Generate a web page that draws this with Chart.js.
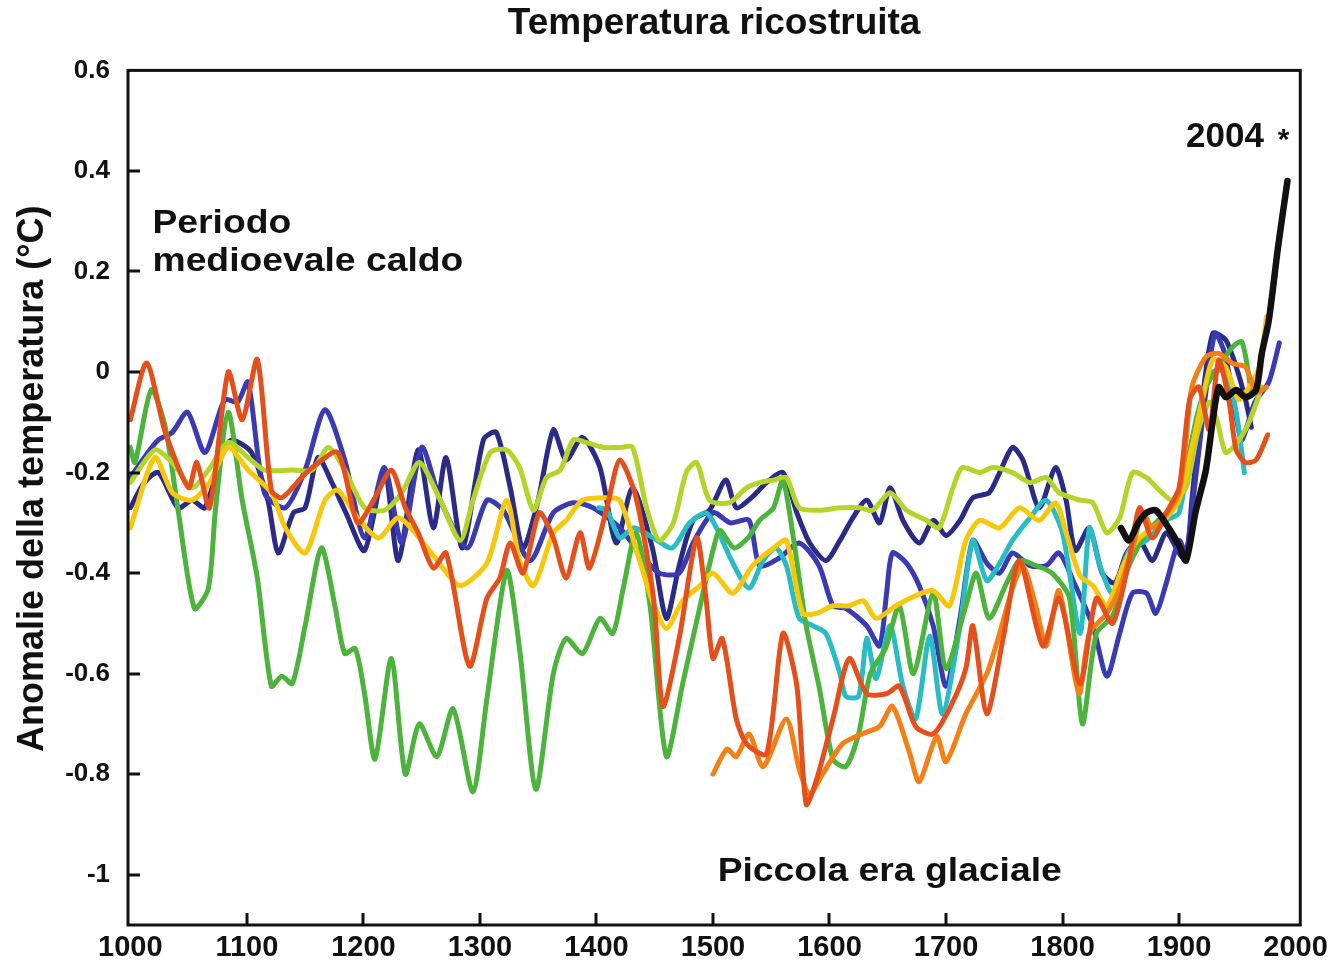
<!DOCTYPE html>
<html lang="it">
<head>
<meta charset="utf-8">
<title>Temperatura ricostruita</title>
<script src="https://cdn.jsdelivr.net/npm/chart.js@4/dist/chart.umd.min.js"></script>
<style>
  html, body { margin: 0; padding: 0; background: #ffffff; }
  canvas { display: block; }
</style>
</head>
<body>
<canvas id="chart" width="1334" height="965"></canvas>
<script>
// ---- Reconstructions: [year, anomaly °C] ----
const navyA = [[1000,-0.27],[1012,-0.22],[1024,-0.20],[1041,-0.27],[1053,-0.255],[1064,-0.27],[1079,-0.16],[1087,-0.135],[1104,-0.16],[1118,-0.255],[1127,-0.36],[1140,-0.28],[1150,-0.27],[1161,-0.17],[1173,-0.22],[1185,-0.28],[1201,-0.355],[1218,-0.195],[1230,-0.375],[1247,-0.155],[1260,-0.31],[1271,-0.17],[1285,-0.35],[1303,-0.135],[1314,-0.12],[1326,-0.23],[1337,-0.35],[1350,-0.255],[1363,-0.115],[1374,-0.175],[1388,-0.13],[1403,-0.19],[1417,-0.34],[1431,-0.23],[1448,-0.35],[1460,-0.49],[1471,-0.385],[1483,-0.295],[1497,-0.275],[1511,-0.215],[1520,-0.27],[1533,-0.25],[1546,-0.22],[1560,-0.20],[1572,-0.28],[1583,-0.34],[1597,-0.375],[1609,-0.335],[1620,-0.29],[1632,-0.255],[1643,-0.30],[1652,-0.23],[1663,-0.295],[1677,-0.34],[1689,-0.295],[1700,-0.325],[1712,-0.295],[1723,-0.25],[1737,-0.24],[1746,-0.20],[1757,-0.15],[1766,-0.175],[1780,-0.27],[1794,-0.19],[1803,-0.255],[1811,-0.355],[1823,-0.31],[1834,-0.40],[1845,-0.42],[1855,-0.36],[1866,-0.335],[1877,-0.375],[1889,-0.32],[1900,-0.36],[1906,-0.375],[1911,-0.255],[1920,-0.055],[1929,0.077],[1940,0.064],[1949,0.01],[1957,-0.055],[1962,-0.11]];

const navyB = [[1000,-0.21],[1012,-0.17],[1024,-0.135],[1036,-0.12],[1049,-0.08],[1064,-0.16],[1081,-0.055],[1092,-0.06],[1101,-0.02],[1115,-0.24],[1133,-0.27],[1150,-0.195],[1167,-0.075],[1184,-0.175],[1201,-0.33],[1218,-0.19],[1233,-0.34],[1250,-0.15],[1266,-0.255],[1289,-0.35],[1306,-0.255],[1320,-0.275],[1343,-0.375],[1363,-0.28],[1380,-0.26],[1397,-0.27],[1420,-0.31],[1437,-0.36],[1454,-0.40],[1471,-0.40],[1483,-0.34],[1500,-0.28],[1515,-0.30],[1531,-0.295],[1540,-0.385],[1557,-0.37],[1574,-0.34],[1591,-0.385],[1603,-0.465],[1614,-0.47],[1632,-0.505],[1643,-0.545],[1649,-0.44],[1654,-0.36],[1666,-0.38],[1677,-0.425],[1689,-0.505],[1700,-0.625],[1712,-0.49],[1723,-0.335],[1735,-0.38],[1746,-0.40],[1757,-0.36],[1772,-0.385],[1786,-0.385],[1797,-0.36],[1810,-0.42],[1826,-0.505],[1838,-0.605],[1849,-0.52],[1860,-0.44],[1872,-0.44],[1880,-0.48],[1889,-0.42],[1900,-0.335],[1906,-0.36],[1914,-0.215],[1923,-0.04],[1931,0.077],[1940,0.03],[1949,-0.09],[1954,-0.135],[1965,-0.06],[1977,-0.02],[1986,0.058]];

const green = [[1000,-0.15],[1004,-0.18],[1018,-0.035],[1030,-0.11],[1041,-0.275],[1055,-0.47],[1067,-0.43],[1073,-0.275],[1084,-0.08],[1096,-0.255],[1109,-0.41],[1121,-0.625],[1130,-0.605],[1139,-0.62],[1150,-0.505],[1164,-0.35],[1176,-0.47],[1184,-0.56],[1193,-0.55],[1201,-0.64],[1210,-0.77],[1224,-0.57],[1236,-0.80],[1248,-0.70],[1263,-0.765],[1277,-0.67],[1294,-0.835],[1306,-0.65],[1323,-0.395],[1334,-0.55],[1348,-0.83],[1363,-0.60],[1374,-0.53],[1388,-0.56],[1403,-0.49],[1414,-0.52],[1423,-0.43],[1434,-0.32],[1446,-0.465],[1460,-0.765],[1474,-0.62],[1489,-0.465],[1500,-0.355],[1506,-0.315],[1518,-0.35],[1530,-0.33],[1540,-0.295],[1552,-0.27],[1560,-0.215],[1569,-0.33],[1580,-0.505],[1591,-0.625],[1603,-0.77],[1614,-0.785],[1625,-0.72],[1635,-0.60],[1648,-0.55],[1660,-0.465],[1672,-0.60],[1689,-0.44],[1700,-0.59],[1717,-0.465],[1726,-0.40],[1737,-0.49],[1752,-0.42],[1763,-0.375],[1777,-0.385],[1791,-0.40],[1806,-0.45],[1817,-0.70],[1829,-0.52],[1843,-0.485],[1857,-0.385],[1872,-0.32],[1889,-0.28],[1900,-0.255],[1911,-0.135],[1923,-0.03],[1934,0.01],[1946,0.05],[1954,0.06],[1962,-0.04]];

const yellowGreen = [[1000,-0.22],[1021,-0.155],[1036,-0.18],[1053,-0.23],[1067,-0.195],[1084,-0.14],[1101,-0.17],[1115,-0.195],[1139,-0.195],[1156,-0.195],[1170,-0.15],[1184,-0.195],[1201,-0.27],[1218,-0.275],[1233,-0.24],[1248,-0.18],[1265,-0.25],[1283,-0.335],[1294,-0.255],[1309,-0.16],[1323,-0.155],[1334,-0.19],[1346,-0.275],[1357,-0.21],[1369,-0.195],[1380,-0.135],[1391,-0.14],[1406,-0.15],[1420,-0.15],[1431,-0.15],[1443,-0.27],[1454,-0.335],[1466,-0.30],[1477,-0.20],[1486,-0.18],[1497,-0.255],[1514,-0.26],[1529,-0.23],[1540,-0.22],[1552,-0.215],[1563,-0.21],[1574,-0.27],[1591,-0.275],[1609,-0.27],[1626,-0.27],[1637,-0.275],[1652,-0.24],[1666,-0.275],[1683,-0.295],[1694,-0.31],[1706,-0.23],[1714,-0.19],[1729,-0.20],[1740,-0.19],[1757,-0.20],[1772,-0.22],[1786,-0.21],[1797,-0.24],[1815,-0.255],[1826,-0.26],[1838,-0.32],[1849,-0.29],[1860,-0.20],[1872,-0.21],[1883,-0.235],[1894,-0.255],[1906,-0.23],[1916,-0.12],[1926,-0.06],[1933,-0.10],[1940,-0.16],[1950,-0.14],[1960,-0.10],[1971,-0.03]];

const yellow = [[1000,-0.31],[1021,-0.17],[1036,-0.24],[1053,-0.255],[1068,-0.22],[1084,-0.15],[1101,-0.195],[1121,-0.24],[1133,-0.31],[1150,-0.36],[1167,-0.255],[1178,-0.235],[1195,-0.29],[1213,-0.33],[1230,-0.29],[1248,-0.33],[1265,-0.38],[1283,-0.425],[1306,-0.38],[1323,-0.255],[1334,-0.375],[1346,-0.425],[1363,-0.32],[1374,-0.295],[1388,-0.255],[1409,-0.25],[1420,-0.255],[1437,-0.375],[1448,-0.455],[1460,-0.51],[1474,-0.455],[1489,-0.425],[1500,-0.40],[1517,-0.44],[1534,-0.385],[1552,-0.35],[1563,-0.335],[1577,-0.48],[1589,-0.48],[1603,-0.465],[1617,-0.465],[1629,-0.455],[1640,-0.49],[1657,-0.465],[1674,-0.445],[1689,-0.435],[1703,-0.465],[1717,-0.335],[1729,-0.295],[1746,-0.31],[1763,-0.27],[1780,-0.295],[1794,-0.26],[1803,-0.32],[1815,-0.405],[1826,-0.425],[1838,-0.465],[1852,-0.385],[1864,-0.335],[1877,-0.31],[1889,-0.29],[1900,-0.255],[1911,-0.15],[1920,-0.055],[1929,0.025],[1940,0.01],[1951,-0.055],[1960,-0.03],[1969,0.01],[1975,0.11]];

const redOrange = [[1000,-0.095],[1014,0.018],[1030,-0.12],[1050,-0.23],[1057,-0.18],[1068,-0.27],[1084,0.0],[1096,-0.095],[1109,0.025],[1121,-0.235],[1130,-0.25],[1147,-0.21],[1156,-0.19],[1178,-0.16],[1195,-0.30],[1210,-0.25],[1224,-0.195],[1236,-0.27],[1247,-0.32],[1260,-0.39],[1271,-0.36],[1291,-0.585],[1306,-0.45],[1317,-0.41],[1326,-0.34],[1337,-0.40],[1351,-0.28],[1363,-0.33],[1374,-0.41],[1386,-0.32],[1394,-0.39],[1409,-0.27],[1420,-0.175],[1434,-0.25],[1449,-0.45],[1457,-0.665],[1471,-0.53],[1486,-0.33],[1494,-0.45],[1500,-0.57],[1508,-0.53],[1520,-0.69],[1529,-0.74],[1546,-0.76],[1560,-0.52],[1572,-0.625],[1580,-0.86],[1589,-0.81],[1603,-0.69],[1617,-0.57],[1632,-0.64],[1649,-0.64],[1660,-0.625],[1674,-0.705],[1689,-0.72],[1705,-0.66],[1717,-0.59],[1723,-0.505],[1735,-0.68],[1749,-0.53],[1763,-0.375],[1783,-0.545],[1797,-0.45],[1815,-0.62],[1829,-0.45],[1843,-0.50],[1857,-0.375],[1866,-0.27],[1877,-0.33],[1889,-0.28],[1900,-0.23],[1909,-0.055],[1917,-0.03],[1926,-0.115],[1934,0.024],[1943,-0.06],[1949,-0.155],[1957,-0.18],[1966,-0.175],[1976,-0.125]];

const orange = [[1500,-0.80],[1512,-0.75],[1520,-0.765],[1531,-0.72],[1543,-0.785],[1563,-0.69],[1574,-0.79],[1583,-0.84],[1594,-0.80],[1611,-0.74],[1628,-0.72],[1643,-0.705],[1654,-0.665],[1669,-0.76],[1677,-0.815],[1692,-0.725],[1700,-0.775],[1717,-0.68],[1735,-0.60],[1746,-0.52],[1757,-0.43],[1766,-0.385],[1777,-0.465],[1786,-0.545],[1797,-0.435],[1814,-0.64],[1823,-0.52],[1838,-0.48],[1849,-0.43],[1860,-0.35],[1869,-0.28],[1877,-0.31],[1890,-0.28],[1900,-0.24],[1906,-0.135],[1911,-0.03],[1923,0.03],[1934,0.037],[1946,0.017],[1957,0.01],[1966,-0.04],[1975,-0.03]];

const cyan = [[1402,-0.27],[1409,-0.275],[1420,-0.33],[1432,-0.31],[1449,-0.33],[1465,-0.35],[1480,-0.30],[1494,-0.28],[1503,-0.31],[1517,-0.38],[1531,-0.43],[1543,-0.375],[1554,-0.35],[1563,-0.385],[1574,-0.49],[1586,-0.505],[1597,-0.52],[1609,-0.60],[1614,-0.645],[1625,-0.645],[1632,-0.53],[1640,-0.61],[1652,-0.505],[1663,-0.625],[1674,-0.69],[1686,-0.525],[1697,-0.68],[1712,-0.505],[1723,-0.335],[1735,-0.415],[1746,-0.38],[1757,-0.335],[1772,-0.29],[1786,-0.255],[1800,-0.32],[1815,-0.52],[1823,-0.31],[1832,-0.385],[1843,-0.44],[1857,-0.355],[1872,-0.335],[1889,-0.295],[1900,-0.28],[1915,-0.09],[1929,0.0],[1940,0.0],[1949,-0.08],[1956,-0.20]];

// Instrumental record
const instrumental = [[1850,-0.31],[1857,-0.335],[1865,-0.30],[1872,-0.28],[1880,-0.275],[1891,-0.31],[1900,-0.345],[1906,-0.375],[1914,-0.28],[1923,-0.195],[1929,-0.095],[1934,-0.03],[1940,-0.05],[1949,-0.036],[1957,-0.05],[1966,-0.036],[1971,0.037],[1977,0.103],[1985,0.25],[1993,0.38]];

// ---- Axis ticks ----
const xTickValues = [1000, 1100, 1200, 1300, 1400, 1500, 1600, 1700, 1800, 1900, 2000];
const yTickValues = [0.6, 0.4, 0.2, 0, -0.2, -0.4, -0.6, -0.8, -1];

// ---- Text ----
const chartTitle = 'Temperatura ricostruita';
const yAxisTitle = 'Anomalie della temperatura (°C)';
const notes = [
  { text: 'Periodo',              year: 1019, value: 0.276 },
  { text: 'medioevale caldo',     year: 1019, value: 0.200 },
  { text: 'Piccola era glaciale', year: 1504, value: -1.013 }
];
const endNote = { text: '2004', star: '*', year: 1906, value: 0.447 };

const FONT = '"Liberation Sans", Arial, Helvetica, sans-serif';
const INK = '#111111';

function toPoints(series) {
  return series.map(([year, value]) => ({ x: year, y: value }));
}

function line(label, series, color, width) {
  return {
    label,
    data: toPoints(series),
    borderColor: color,
    backgroundColor: color,
    borderWidth: width,
    pointRadius: 0,
    tension: 0.25,
    borderJoinStyle: 'round',
    borderCapStyle: 'round',
    fill: false
  };
}

// Frame, inward tick marks, in-plot labels and the vertical axis title
const decorPlugin = {
  id: 'decor',
  afterDraw(chart) {
    const { ctx, chartArea: a, scales: { x, y } } = chart;
    ctx.save();
    ctx.strokeStyle = INK;
    ctx.lineWidth = 3;
    ctx.lineCap = 'butt';

    ctx.beginPath();
    xTickValues.slice(1, -1).forEach(v => {
      const px = Math.round(x.getPixelForValue(v));
      ctx.moveTo(px, a.bottom);
      ctx.lineTo(px, a.bottom - 12);
    });
    yTickValues.slice(1).forEach(v => {
      const py = Math.round(y.getPixelForValue(v));
      ctx.moveTo(a.left, py);
      ctx.lineTo(a.left + 12, py);
    });
    ctx.stroke();

    ctx.strokeRect(a.left, a.top, a.right - a.left, a.bottom - a.top);

    ctx.fillStyle = INK;
    ctx.textBaseline = 'alphabetic';
    ctx.textAlign = 'left';
    ctx.font = 'bold 33px ' + FONT;
    notes.forEach(n => {
      ctx.save();
      ctx.translate(x.getPixelForValue(n.year), y.getPixelForValue(n.value));
      ctx.scale(1.13, 1);
      ctx.fillText(n.text, 0, 0);
      ctx.restore();
    });

    const ex = x.getPixelForValue(endNote.year);
    const ey = y.getPixelForValue(endNote.value);
    ctx.font = 'bold 35px ' + FONT;
    ctx.fillText(endNote.text, ex, ey);
    const w = ctx.measureText(endNote.text + ' ').width;
    ctx.font = 'bold 30px ' + FONT;
    ctx.fillText(endNote.star, ex + w + 4, ey + 2);

    ctx.save();
    ctx.translate(33, (a.top + a.bottom) / 2 - 19);
    ctx.rotate(-Math.PI / 2);
    ctx.textAlign = 'center';
    ctx.textBaseline = 'middle';
    ctx.font = 'bold 36px ' + FONT;
    ctx.fillText(yAxisTitle, 0, 0);
    ctx.restore();

    ctx.restore();
  }
};

new Chart(document.getElementById('chart'), {
  type: 'line',
  data: {
    datasets: [
      line('Strumentale', instrumental, '#111111', 6.5),
      line('A', redOrange, '#e4501c', 5),
      line('B', orange, '#f38016', 5),
      line('C', yellow, '#f7c70a', 5),
      line('D', yellowGreen, '#b5d42a', 5),
      line('E', green, '#4cb43c', 5),
      line('F', cyan, '#2abcc4', 5),
      line('G', navyB, '#3a3ab2', 5),
      line('H', navyA, '#2a2a88', 5)
    ]
  },
  options: {
    responsive: false,
    devicePixelRatio: 1,
    animation: false,
    layout: { padding: { left: 0, right: 33, top: 0, bottom: 0 } },
    plugins: {
      legend: { display: false },
      tooltip: { enabled: false },
      title: {
        display: true,
        text: chartTitle,
        fullSize: false,
        color: INK,
        font: { family: FONT, size: 37, weight: 'bold' },
        padding: { top: 2, bottom: 24 }
      }
    },
    scales: {
      x: {
        type: 'linear',
        min: 998,
        max: 2004,
        grid: { display: false, drawTicks: false },
        border: { display: false },
        afterBuildTicks(scale) { scale.ticks = xTickValues.map(v => ({ value: v })); },
        afterFit(scale) { scale.height = 40; },
        ticks: {
          autoSkip: false,
          maxRotation: 0,
          padding: 6,
          color: INK,
          font: { family: FONT, size: 29, weight: 'bold' },
          callback: v => String(v)
        }
      },
      y: {
        type: 'linear',
        min: -1.1,
        max: 0.6,
        grid: { display: false, drawTicks: false },
        border: { display: false },
        afterBuildTicks(scale) { scale.ticks = yTickValues.map(v => ({ value: v })); },
        afterFit(scale) { scale.width = 128; },
        ticks: {
          autoSkip: false,
          padding: 18,
          color: INK,
          font: { family: FONT, size: 26, weight: 'bold' },
          callback: v => String(Math.round(v * 10) / 10)
        }
      }
    }
  },
  plugins: [decorPlugin]
});
</script>
</body>
</html>
